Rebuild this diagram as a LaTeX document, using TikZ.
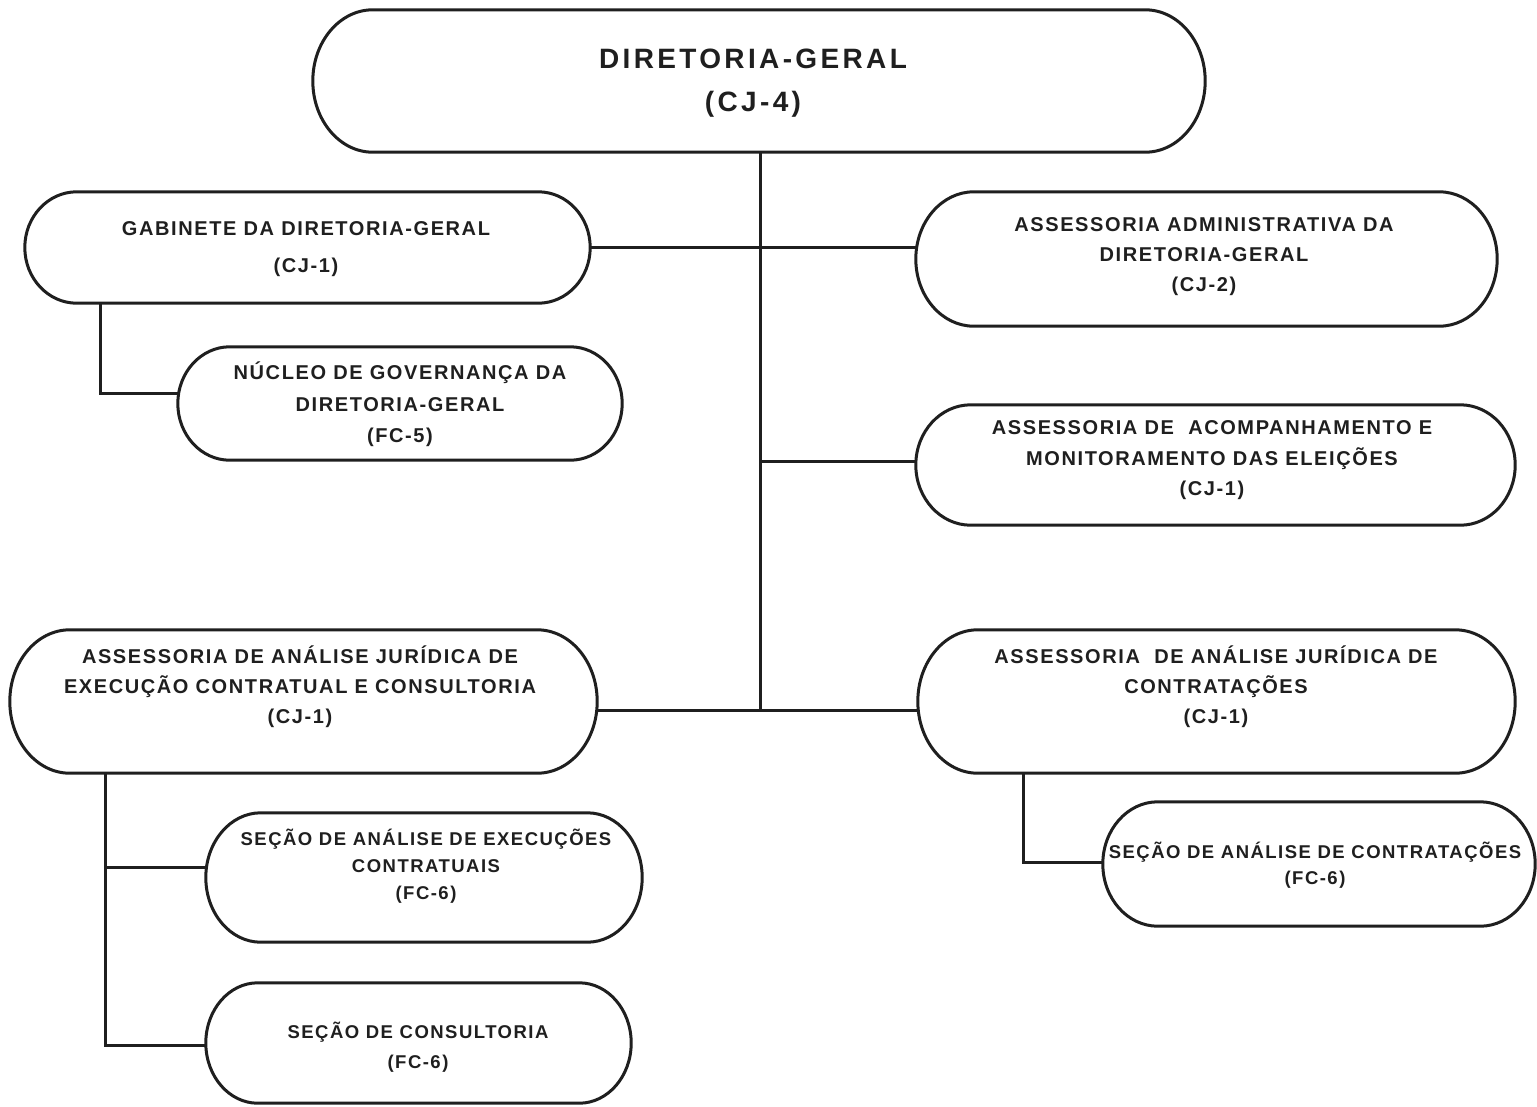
\documentclass[tikz,border=0pt]{standalone}
\usepackage{fontspec}
\setmainfont{Liberation Sans}
\newfontfamily\boxfont[LetterSpace=8]{Liberation Sans}
\newfontfamily\titlefont[LetterSpace=12]{Liberation Sans}
\usetikzlibrary{calc}
\tikzset{
  box/.style={draw=none, rectangle, inner sep=0pt},
  boxline/.style={line width=3pt, draw=black!88},
  conn/.style={line width=3pt, draw=black!88},
  txt/.style={align=center, inner sep=0pt, text=black!88, font=\boxfont\bfseries\fontsize{20}{30}\selectfont},
}
\newcommand\stadium[2]{%
  \draw[boxline] let \p1=(#1.north west), \p2=(#1.south east), \n1={0.5*(\y1-\y2)} in
   (\x1+#2pt,\y1) -- (\x2-#2pt,\y1)
   arc[start angle=90,end angle=-90,x radius=#2pt,y radius=\n1]
   -- (\x1+#2pt,\y2)
   arc[start angle=270,end angle=90,x radius=#2pt,y radius=\n1] -- cycle;}
\begin{document}
\begin{tikzpicture}[x=1pt,y=-1pt]
\useasboundingbox[fill=white] (0,0) rectangle (1537,1106);
% boxes
\node[box, minimum width=892pt, minimum height=142pt] (top) at (759,81) {};
\node[box, minimum width=565pt, minimum height=111pt] (gab) at (307.5,247.5) {};
\node[box, minimum width=444pt, minimum height=113pt] (nuc) at (400,403.5) {};
\node[box, minimum width=581pt, minimum height=134pt] (adm) at (1206.5,259) {};
\node[box, minimum width=599pt, minimum height=120pt] (acomp) at (1215.5,465) {};
\node[box, minimum width=587pt, minimum height=143pt] (an1) at (303.5,701.5) {};
\node[box, minimum width=597pt, minimum height=143pt] (an2) at (1216.5,701.5) {};
\node[box, minimum width=436pt, minimum height=129pt] (sec1) at (424,877.5) {};
\node[box, minimum width=425pt, minimum height=120pt] (sec2) at (418.5,1043) {};
\node[box, minimum width=432pt, minimum height=124pt] (sec3) at (1319,864) {};
\stadium{top}{60}
\stadium{gab}{52}
\stadium{nuc}{52}
\stadium{adm}{58}
\stadium{acomp}{55}
\stadium{an1}{60}
\stadium{an2}{60}
\stadium{sec1}{55}
\stadium{sec2}{52}
\stadium{sec3}{55}
% texts
\node[txt, font=\titlefont\bfseries\fontsize{28}{43}\selectfont] (ttop) at (753,83.5) {DIRETORIA-GERAL\\(CJ-4)};
\node[txt, font=\boxfont\bfseries\fontsize{20}{37}\selectfont] (tgab) at (306,249.5) {GABINETE DA DIRETORIA-GERAL\\(CJ-1)};
\node[txt, font=\boxfont\bfseries\fontsize{20}{31.5}\selectfont] (tnuc) at (400,404.5) {NÚCLEO DE GOVERNANÇA DA\\DIRETORIA-GERAL\\(FC-5)};
\node[txt] (tadm) at (1204,257) {ASSESSORIA ADMINISTRATIVA DA\\DIRETORIA-GERAL\\(CJ-2)};
\node[txt, font=\boxfont\bfseries\fontsize{20}{30.5}\selectfont] (tacomp) at (1212,460.5) {ASSESSORIA DE\ \ ACOMPANHAMENTO E\\MONITORAMENTO DAS ELEIÇÕES\\(CJ-1)};
\node[txt] (tan1) at (300,687) {ASSESSORIA DE ANÁLISE JURÍDICA DE\\EXECUÇÃO CONTRATUAL E CONSULTORIA\\(CJ-1)};
\node[txt] (tan2) at (1216,687) {ASSESSORIA\ \ DE ANÁLISE JURÍDICA DE\\CONTRATAÇÕES\\(CJ-1)};
\node[txt, font=\boxfont\bfseries\fontsize{18.5}{27}\selectfont] (tsec1) at (426,866) {SEÇÃO DE ANÁLISE DE EXECUÇÕES\\CONTRATUAIS\\(FC-6)};
\node[txt, font=\boxfont\bfseries\fontsize{18.5}{30}\selectfont] (tsec2) at (418,1047) {SEÇÃO DE CONSULTORIA\\(FC-6)};
\node[txt, font=\boxfont\bfseries\fontsize{18.5}{26}\selectfont] (tsec3) at (1315,865) {SEÇÃO DE ANÁLISE DE CONTRATAÇÕES\\(FC-6)};
% connectors
\coordinate (tr) at (760,710);
\coordinate (tr2) at (760,461);
\draw[conn] (top.south -| tr) -- (tr);
\draw[conn] (gab.east) -- (gab.east -| adm.west);
\draw[conn] (tr2) -- (tr2 -| acomp.west);
\draw[conn] (an1.east |- tr) -- (an2.west |- tr);
\coordinate (g1) at (100,393);
\draw[conn] (gab.south -| g1) -- (g1) -- (g1 -| nuc.west);
\coordinate (l1) at (105,867);
\coordinate (l2) at (105,1045);
\draw[conn] (an1.south -| l1) -- (l2) -- (l2 -| sec2.west);
\draw[conn] (l1) -- (l1 -| sec1.west);
\coordinate (r1) at (1023,862);
\draw[conn] (an2.south -| r1) -- (r1) -- (r1 -| sec3.west);
\end{tikzpicture}
\end{document}
